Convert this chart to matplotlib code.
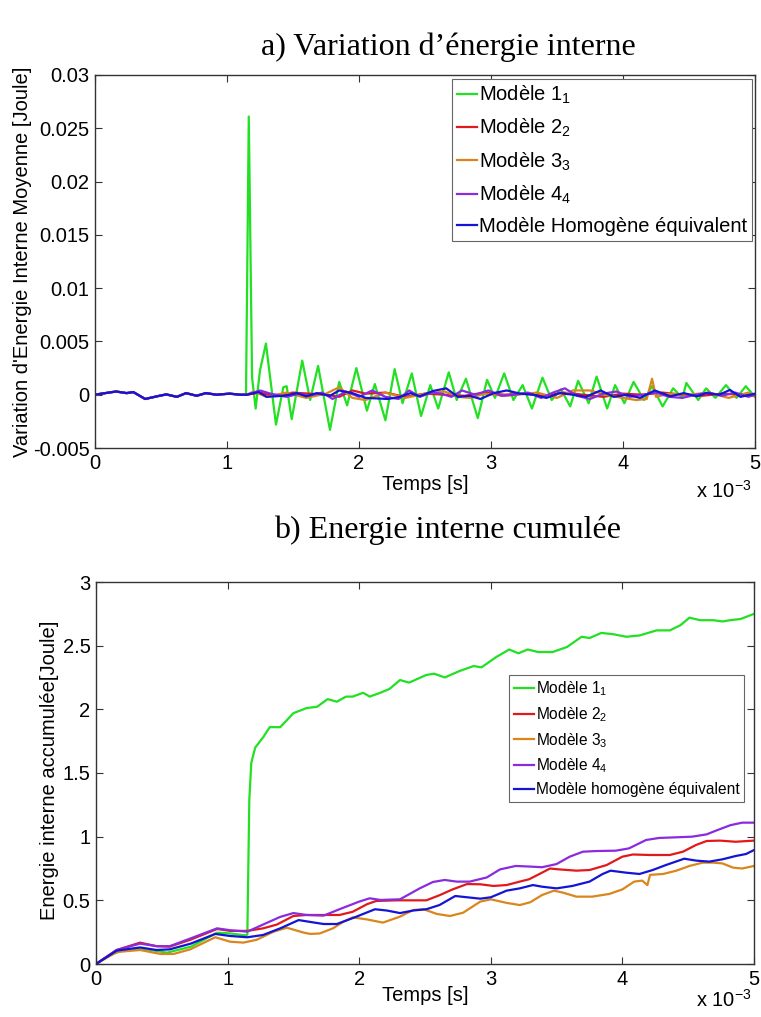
import matplotlib
matplotlib.use("Agg")
import matplotlib.pyplot as plt

plt.rcParams['font.family'] = ['Liberation Sans', 'DejaVu Sans']
plt.rcParams['mathtext.fontset'] = 'custom'
plt.rcParams['mathtext.rm'] = 'Liberation Sans'
plt.rcParams['mathtext.it'] = 'Liberation Sans:italic'
plt.rcParams['mathtext.bf'] = 'Liberation Sans:bold'

# ---------------- data (time in 1e-3 s) ----------------
labels_top = ['Modèle 1$_1$', 'Modèle 2$_2$', 'Modèle 3$_3$', 'Modèle 4$_4$',
              'Modèle Homogène équivalent']
labels_bot = ['Modèle 1$_1$', 'Modèle 2$_2$', 'Modèle 3$_3$', 'Modèle 4$_4$',
              'Modèle homogène équivalent']
colors = ['#22e022', '#e2191c', '#d9861c', '#8a2be0', '#1414d6']

# a) variation of internal energy -- shared start (all models identical)
t_early = [0, 0.05, 0.16, 0.24, 0.29, 0.38, 0.47, 0.54, 0.62, 0.69, 0.77, 0.84, 0.92, 1.02, 1.10]
v_early = [0, 0.0001, 0.0003, 0.00015, 0.00025, -0.0004, -0.00015, 0.00003, -0.0002,
           0.00015, -0.0001, 0.00015, 0.0, 0.0001, 0.0]

green_t = [1.144, 1.165, 1.19, 1.217, 1.25, 1.295, 1.371, 1.427, 1.452, 1.49, 1.57, 1.63,
           1.69, 1.78, 1.85, 1.91, 1.98, 2.06, 2.12, 2.20, 2.27, 2.33, 2.40, 2.47, 2.54,
           2.60, 2.68, 2.74, 2.81, 2.90, 2.97, 3.03, 3.10, 3.17, 3.24, 3.31, 3.39, 3.46,
           3.53, 3.60, 3.66, 3.74, 3.80, 3.88, 3.94, 4.01, 4.08, 4.16, 4.22, 4.30, 4.38,
           4.45, 4.48, 4.57, 4.63, 4.70, 4.78, 4.86, 4.93, 5.0]
green_v = [0.0, 0.0261, 0.0016, -0.0013, 0.0023, 0.0048, -0.0028, 0.0007, 0.0008, -0.0023,
           0.0032, -0.0005, 0.0027, -0.0033, 0.0012, -0.0010, 0.0025, -0.0015, 0.0010,
           -0.0024, 0.0024, -0.0008, 0.0020, -0.0020, 0.0009, -0.0013, 0.0021, -0.0005,
           0.0015, -0.0022, 0.0014, -0.0003, 0.0020, -0.0005, 0.0009, -0.0013, 0.0016,
           -0.0005, 0.0005, -0.0011, 0.0013, -0.0008, 0.0017, -0.0013, 0.0009, -0.0008,
           0.0012, -0.0005, 0.0008, -0.0011, 0.0006, -0.0003, 0.0011, -0.0005, 0.0006,
           -0.0003, 0.0009, -0.0003, 0.0008, -0.0002]

red_t = [1.15, 1.25, 1.35, 1.5, 1.62, 1.75, 1.85, 1.95, 2.05, 2.2, 2.35, 2.5, 2.65, 2.8,
         2.95, 3.1, 3.25, 3.4, 3.55, 3.7, 3.85, 4.0, 4.15, 4.3, 4.45, 4.6, 4.75, 4.9, 5.0]
red_v = [0.0, 0.0002, -0.0001, 0.0002, 0.0001, 0.0, -0.0002, 0.0004, 0.0001, 0.0002,
         -0.0002, 0.0001, 0.0, -0.0001, 0.0002, 0.0, 0.0001, -0.0001, 0.0002, 0.0,
         -0.0002, 0.0001, 0.0, 0.0002, 0.0, -0.0001, 0.0001, 0.0, -0.0001]

orange_t = [1.15, 1.2, 1.3, 1.45, 1.6, 1.75, 1.85, 1.95, 2.05, 2.2, 2.35, 2.5, 2.65, 2.75,
            2.85, 2.95, 3.1, 3.2, 3.35, 3.5, 3.62, 3.75, 3.9, 4.0, 4.1, 4.18, 4.22, 4.25,
            4.35, 4.5, 4.65, 4.8, 4.95, 5.0]
orange_v = [0.0, 0.0003, -0.0002, 0.0002, -0.0003, 0.0001, 0.0007, -0.0003, -0.0005,
            0.0002, -0.0003, 0.0001, 0.0003, -0.0002, -0.0003, 0.0001, -0.0001, 0.0,
            0.0002, -0.0003, 0.0004, 0.0004, -0.0001, -0.0003, -0.0005, -0.0004, 0.0015,
            -0.0002, 0.0001, 0.0, 0.0002, -0.0003, 0.0002, -0.0002]

purple_t = [1.15, 1.25, 1.33, 1.45, 1.55, 1.62, 1.72, 1.80, 1.90, 2.0, 2.10, 2.2, 2.30,
            2.38, 2.46, 2.55, 2.62, 2.70, 2.78, 2.88, 2.98, 3.08, 3.18, 3.28, 3.38, 3.47,
            3.56, 3.65, 3.75, 3.85, 3.95, 4.05, 4.15, 4.25, 4.35, 4.45, 4.55, 4.65, 4.75,
            4.85, 4.95, 5.0]
purple_v = [0.0, 0.0004, 0.0001, -0.0002, 0.0001, -0.0001, 0.0002, -0.0004, 0.0003,
            -0.0002, 0.0004, -0.0002, -0.0004, 0.0004, -0.0002, 0.0002, 0.0001, -0.0002,
            0.0004, 0.0, 0.0004, -0.0001, 0.0, 0.0002, -0.0003, 0.0002, 0.0006, -0.0001,
            -0.0004, 0.0001, 0.0003, -0.0002, 0.0, 0.0002, -0.0002, -0.0003, 0.0, 0.0002,
            -0.0001, 0.0002, -0.0002, 0.0]

blue_t = [1.15, 1.24, 1.30, 1.43, 1.53, 1.60, 1.68, 1.78, 1.85, 1.95, 2.05, 2.22, 2.31,
          2.39, 2.46, 2.56, 2.66, 2.75, 2.84, 2.92, 3.02, 3.12, 3.22, 3.32, 3.42, 3.52,
          3.62, 3.72, 3.83, 3.93, 4.03, 4.13, 4.24, 4.36, 4.46, 4.56, 4.63, 4.73, 4.81,
          4.89, 5.0]
blue_v = [0.0, 0.00025, -0.0002, -0.0001, 0.00015, -0.00015, 0.00015, -0.0001, 0.0004,
          0.00015, -0.0003, -0.0004, -0.0002, 0.00015, -0.00015, 0.00035, 0.0006, -0.0002,
          -0.0001, -0.0004, 0.00015, 0.0004, 0.0001, 0.0, -0.0003, 0.00015, 0.0, -0.0002,
          0.0004, -0.0002, 0.0, -0.0003, 0.0004, -0.00015, 0.00015, -0.00015, 0.00015,
          0.0, 0.00045, -0.0002, 0.0001]

# b) cumulated internal energy
gb_t = [0, 0.106, 0.2, 0.335, 0.54, 0.72, 0.82, 0.92, 1.02, 1.13, 1.15, 1.158, 1.165,
        1.18, 1.21, 1.27, 1.32, 1.40, 1.50, 1.60, 1.68, 1.76, 1.83, 1.90, 1.95, 2.03,
        2.08, 2.16, 2.23, 2.31, 2.38, 2.51, 2.57, 2.65, 2.76, 2.87, 2.93, 3.04, 3.14,
        3.21, 3.28, 3.36, 3.47, 3.58, 3.69, 3.75, 3.84, 3.93, 4.03, 4.13, 4.26, 4.36,
        4.44, 4.51, 4.59, 4.69, 4.76, 4.82, 4.90, 5.0]
gb_v = [0, 0.07, 0.105, 0.123, 0.089, 0.136, 0.19, 0.246, 0.24, 0.225, 0.23, 0.8, 1.29,
        1.58, 1.70, 1.78, 1.86, 1.86, 1.97, 2.01, 2.02, 2.08, 2.06, 2.10, 2.10, 2.13,
        2.10, 2.13, 2.16, 2.23, 2.21, 2.27, 2.28, 2.25, 2.30, 2.34, 2.33, 2.41, 2.47,
        2.44, 2.47, 2.45, 2.45, 2.49, 2.57, 2.56, 2.60, 2.59, 2.57, 2.58, 2.62, 2.62,
        2.66, 2.72, 2.70, 2.70, 2.69, 2.70, 2.71, 2.75]

rb_t = [0, 0.157, 0.335, 0.46, 0.56, 0.716, 0.92, 1.02, 1.15, 1.27, 1.375, 1.50, 1.60,
        1.70, 1.85, 1.95, 2.06, 2.13, 2.28, 2.38, 2.51, 2.61, 2.71, 2.82, 2.92, 3.02,
        3.12, 3.22, 3.29, 3.37, 3.45, 3.52, 3.65, 3.75, 3.88, 4.0, 4.08, 4.21, 4.36,
        4.46, 4.56, 4.64, 4.74, 4.86, 5.0]
rb_v = [0, 0.11, 0.168, 0.14, 0.136, 0.19, 0.275, 0.26, 0.26, 0.28, 0.31, 0.377, 0.385,
        0.385, 0.385, 0.41, 0.47, 0.495, 0.50, 0.50, 0.50, 0.54, 0.586, 0.628, 0.626,
        0.613, 0.62, 0.647, 0.665, 0.707, 0.75, 0.743, 0.733, 0.738, 0.777, 0.843, 0.86,
        0.856, 0.856, 0.882, 0.935, 0.966, 0.969, 0.96, 0.969]

ob_t = [0, 0.157, 0.335, 0.49, 0.59, 0.716, 0.906, 1.02, 1.12, 1.22, 1.35, 1.45, 1.58,
        1.63, 1.70, 1.80, 1.88, 1.95, 2.06, 2.18, 2.31, 2.41, 2.49, 2.59, 2.69, 2.79,
        2.92, 3.0, 3.12, 3.22, 3.30, 3.39, 3.48, 3.55, 3.65, 3.77, 3.90, 4.0, 4.09,
        4.15, 4.19, 4.21, 4.31, 4.41, 4.51, 4.61, 4.69, 4.76, 4.84, 4.91, 5.0]
ob_v = [0, 0.094, 0.11, 0.079, 0.079, 0.115, 0.21, 0.175, 0.168, 0.19, 0.254, 0.285,
        0.246, 0.236, 0.24, 0.28, 0.332, 0.366, 0.35, 0.325, 0.372, 0.424, 0.43, 0.393,
        0.377, 0.403, 0.49, 0.508, 0.48, 0.463, 0.485, 0.542, 0.576, 0.56, 0.529, 0.529,
        0.55, 0.586, 0.647, 0.655, 0.62, 0.70, 0.707, 0.733, 0.77, 0.796, 0.796, 0.79,
        0.757, 0.75, 0.77]

pb_t = [0, 0.157, 0.335, 0.46, 0.56, 0.716, 0.92, 1.02, 1.15, 1.27, 1.40, 1.50, 1.60,
        1.73, 1.85, 2.0, 2.08, 2.16, 2.31, 2.46, 2.56, 2.65, 2.74, 2.84, 2.97, 3.07,
        3.19, 3.32, 3.39, 3.50, 3.60, 3.70, 3.80, 3.95, 4.05, 4.18, 4.28, 4.41, 4.53,
        4.64, 4.71, 4.82, 4.91, 5.0]
pb_v = [0, 0.11, 0.16, 0.14, 0.14, 0.2, 0.28, 0.265, 0.254, 0.31, 0.37, 0.40, 0.385,
        0.38, 0.43, 0.49, 0.516, 0.503, 0.508, 0.594, 0.644, 0.66, 0.647, 0.647, 0.68,
        0.743, 0.77, 0.764, 0.76, 0.785, 0.843, 0.882, 0.887, 0.89, 0.908, 0.974, 0.99,
        0.995, 1.0, 1.018, 1.047, 1.09, 1.11, 1.11]

bb_t = [0, 0.157, 0.335, 0.46, 0.56, 0.72, 0.906, 1.02, 1.15, 1.27, 1.40, 1.54, 1.63,
        1.73, 1.83, 1.95, 2.12, 2.21, 2.31, 2.41, 2.51, 2.61, 2.73, 2.82, 2.92, 3.0,
        3.12, 3.22, 3.32, 3.39, 3.50, 3.62, 3.75, 3.85, 3.91, 4.03, 4.13, 4.23, 4.33,
        4.47, 4.56, 4.66, 4.76, 4.86, 4.94, 5.0]
bb_v = [0, 0.105, 0.13, 0.11, 0.115, 0.16, 0.236, 0.22, 0.21, 0.228, 0.28, 0.345, 0.33,
        0.314, 0.314, 0.36, 0.43, 0.42, 0.40, 0.42, 0.43, 0.463, 0.534, 0.524, 0.513,
        0.524, 0.576, 0.594, 0.62, 0.607, 0.594, 0.613, 0.647, 0.707, 0.733, 0.717,
        0.707, 0.738, 0.777, 0.827, 0.812, 0.804, 0.822, 0.848, 0.864, 0.895]

top_yticks = [-0.005, 0, 0.005, 0.01, 0.015, 0.02, 0.025, 0.03]
top_ylabels = ['-0.005', '0', '0.005', '0.01', '0.015', '0.02', '0.025', '0.03']
bot_yticks = [0, 0.5, 1, 1.5, 2, 2.5, 3]
bot_ylabels = ['0', '0.5', '1', '1.5', '2', '2.5', '3']
xticks = [0, 1, 2, 3, 4, 5]

# ---------------- figure ----------------
W, H = 761, 1017
fig = plt.figure(figsize=(W / 100, H / 100), dpi=100)
FS = 14.5

def px_axes(l, t, r, b):
    return fig.add_axes([l / W, 1 - b / H, (r - l) / W, (b - t) / H])

spine_c = '#333333'

def style(ax):
    for s in ax.spines.values():
        s.set_color(spine_c)
        s.set_linewidth(1.0)
    ax.tick_params(direction='in', top=True, right=True, length=5, width=0.8,
                   colors='black', labelsize=FS, pad=4)
    ax.tick_params(axis='both', color=spine_c)

ax1 = px_axes(95, 75, 755, 448)
top_series = [(t_early + green_t, v_early + green_v),
              (t_early + red_t, v_early + red_v),
              (t_early + orange_t, v_early + orange_v),
              (t_early + purple_t, v_early + purple_v),
              (t_early + blue_t, v_early + blue_v)]
for (t, v), c, lab in zip(top_series, colors, labels_top):
    ax1.plot(t, v, color=c, lw=1.6, label=lab)
ax1.set_xlim(0, 5)
ax1.set_ylim(-0.005, 0.03)
ax1.set_xticks(xticks)
ax1.set_xticklabels([str(x) for x in xticks])
ax1.set_yticks(top_yticks)
ax1.set_yticklabels(top_ylabels)
style(ax1)
ax1.set_xlabel('Temps [s]', fontsize=FS)
ax1.xaxis.set_label_coords(0.5, -0.072)
ax1.set_ylabel("Variation d'Energie Interne Moyenne [Joule]", fontsize=FS)
ax1.yaxis.set_label_coords(-0.096, 0.5)
leg1 = ax1.legend(loc='upper right', bbox_to_anchor=(0.996, 0.99), borderaxespad=0,
                  fontsize=14.5, handlelength=1.0, handletextpad=0.1, labelspacing=0.55,
                  fancybox=False, framealpha=1, borderpad=0.25)
leg1.get_frame().set_edgecolor('#666666')
leg1.get_frame().set_linewidth(0.8)

ax2 = px_axes(96, 582, 754, 964)
bot_series = [(gb_t, gb_v), (rb_t, rb_v), (ob_t, ob_v), (pb_t, pb_v), (bb_t, bb_v)]
for (t, v), c, lab in zip(bot_series, colors, labels_bot):
    ax2.plot(t, v, color=c, lw=1.6, label=lab)
ax2.set_xlim(0, 5)
ax2.set_ylim(0, 3)
ax2.set_xticks(xticks)
ax2.set_xticklabels([str(x) for x in xticks])
ax2.set_yticks(bot_yticks)
ax2.set_yticklabels(bot_ylabels)
style(ax2)
ax2.set_xlabel('Temps [s]', fontsize=FS)
ax2.xaxis.set_label_coords(0.5, -0.058)
ax2.set_ylabel('Energie interne accumulée[Joule]', fontsize=FS)
ax2.yaxis.set_label_coords(-0.056, 0.508)
leg2 = ax2.legend(loc='upper right', bbox_to_anchor=(0.985, 0.757), borderaxespad=0,
                  fontsize=11.2, handlelength=1.3, handletextpad=0.1, labelspacing=0.45,
                  fancybox=False, framealpha=1, borderpad=0.3)
leg2.get_frame().set_edgecolor('#666666')
leg2.get_frame().set_linewidth(0.8)

fig.text(752 / W, 1 - 491 / H, 'x 10$^{-3}$', ha='right', va='center', fontsize=FS)
fig.text(752 / W, 1 - 1000 / H, 'x 10$^{-3}$', ha='right', va='center', fontsize=FS)

fig.text(448 / W, 1 - 47 / H, "a) Variation d\u2019énergie interne", ha='center', va='center',
         fontsize=23, family='Liberation Serif')
fig.text(448 / W, 1 - 530 / H, 'b) Energie interne cumulée', ha='center', va='center',
         fontsize=23, family='Liberation Serif')

fig.savefig('out.png', dpi=100)
